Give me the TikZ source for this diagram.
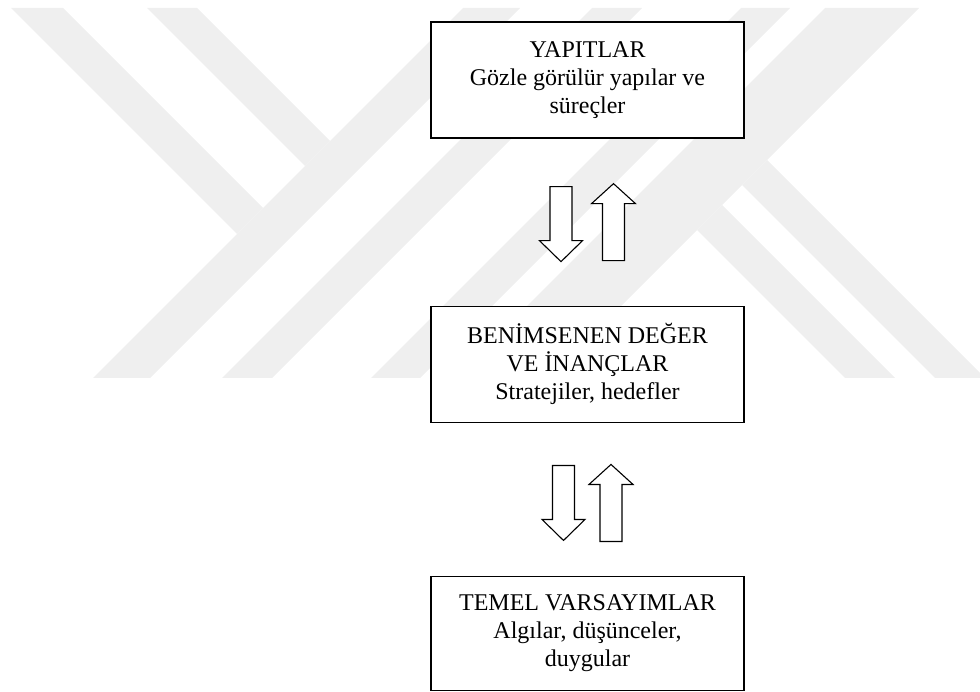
\documentclass[tikz,border=0pt]{standalone}
\usepackage{fontspec}
\setmainfont{Liberation Serif}
\usepackage{tikz}
\usetikzlibrary{positioning,calc}
\definecolor{wmgray}{HTML}{EFEFEF}

\tikzset{
    okline/.style={draw, line width=1.1pt, fill=white, line join=miter},
    asagi/.pic={\path[okline] (-11,-37.5) -- (11,-37.5) -- (11,16.5) -- (21.5,16.5)
        -- (0,37.5) -- (-21.5,16.5) -- (-11,16.5) -- cycle;},
    yukari/.pic={\path[okline] (-11,38.5) -- (11,38.5) -- (11,-18.5) -- (22,-18.5)
        -- (0,-38.5) -- (-22,-18.5) -- (-11,-18.5) -- cycle;}
}

\begin{document}
\begin{tikzpicture}[
    x=1pt, y=-1pt,
    font=\fontsize{24}{28}\selectfont,
    box/.style={draw, line width=1.3pt, fill=white, align=center,
                execute at begin node={\rule{0pt}{24pt}},
                minimum width=313pt, minimum height=116pt, inner sep=0pt},
    band/.style={fill=wmgray, draw=none}
]
\useasboundingbox (0,0) rectangle (980,692);

% watermark
\begin{scope}
\clip (0,8) rectangle (980,378);
\fill[band] (11,8) -- (63,8) -- (263,208) -- (237,234) -- cycle;
\fill[band] (147,8) -- (197,8) -- (330,141) -- (305,166) -- cycle;
\fill[band] (463,8) -- (520,8) -- (150,378) -- (93,378) -- cycle;
\fill[band] (592,8) -- (642,8) -- (272,378) -- (222,378) -- cycle;
\fill[band] (741,8) -- (790,8) -- (420,378) -- (371,378) -- cycle;
\fill[band] (825,8) -- (919,8) -- (549,378) -- (455,378) -- cycle;
\fill[band] (697,230) -- (722,205) -- (895,378) -- (845,378) -- cycle;
\fill[band] (742,185) -- (767,160) -- (985,378) -- (935,378) -- cycle;
\end{scope}

% boxes
\node[box] (yapit) at (587.5,80) {YAPITLAR\\Gözle görülür yapılar ve\\süreçler};
\node[box, below=167pt of yapit] (deger) {BENİMSENEN DEĞER\\VE İNANÇLAR\\Stratejiler, hedefler};
\node[box, below=153pt of deger, minimum height=114pt] (temel) {TEMEL VARSAYIMLAR\\Algılar, düşünceler,\\duygular};

% block arrows
\pic (asagi1) at ($(yapit.south)!.5!(deger.north)+(-26.5,2)$) {asagi};
\pic (yukari1) at ($(yapit.south)!.5!(deger.north)+(26,0)$) {yukari};
\pic (asagi2) at ($(deger.south)!.5!(temel.north)+(-24,3.5)$) {asagi};
\pic (yukari2) at ($(deger.south)!.5!(temel.north)+(23.5,3.5)$) {yukari};
\end{tikzpicture}
\end{document}
